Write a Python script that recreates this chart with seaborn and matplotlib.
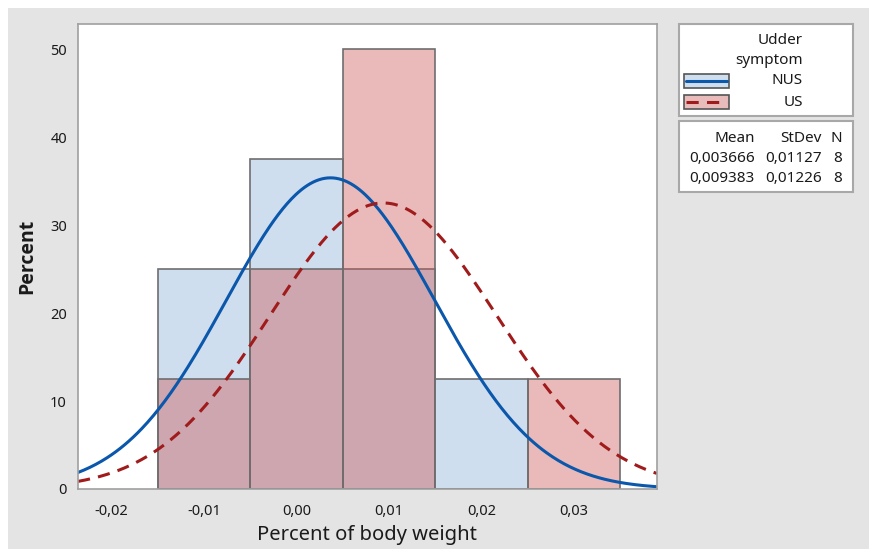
import numpy as np
import pandas as pd
import matplotlib
matplotlib.use("Agg")
import matplotlib.pyplot as plt
from matplotlib.patches import Rectangle
from matplotlib.lines import Line2D
import seaborn as sns

# Histogram data (percent per bin), bin width 0.01
bin_centers = [-0.01, 0.00, 0.01, 0.02, 0.03]
nus_pct = [25.0, 37.5, 25.0, 12.5, 0.0]
us_pct = [12.5, 25.0, 50.0, 0.0, 12.5]
bin_width = 0.01

groups = ["NUS", "US"]
means = [0.003666, 0.009383]
stdevs = [0.01127, 0.01226]
counts = [8, 8]
mean_labels = ["0,003666", "0,009383"]
stdev_labels = ["0,01127", "0,01226"]

x_ticks = [-0.02, -0.01, 0.00, 0.01, 0.02, 0.03]
x_ticklabels = ["-0,02", "-0,01", "0,00", "0,01", "0,02", "0,03"]
y_ticks = [0, 10, 20, 30, 40, 50]

sns.set_style("white")
plt.rcParams["font.family"] = ["Noto Sans", "DejaVu Sans"]

W, H = 870, 549
fig = plt.figure(figsize=(W / 100, H / 100), dpi=100)
fig.patch.set_facecolor("white")


def fx(px):
    return px / W


def fy(py):
    return 1 - py / H


# gray panel behind everything (thin white strip top/left like the original)
fig.add_artist(Rectangle((fx(8), 0), 1 - fx(8), fy(8), transform=fig.transFigure,
                         facecolor="#e4e4e4", edgecolor="none", zorder=-10))

ax = fig.add_axes([fx(78), fy(489), fx(657) - fx(78), fy(24) - fy(489)])
ax.set_facecolor("white")

edges = [round(c - bin_width / 2, 4) for c in bin_centers] + [round(bin_centers[-1] + bin_width / 2, 4)]
nus_col = "#cfdeee"
us_rgba = (0.80, 0.33, 0.33, 0.40)
edge_col = "#6e6e6e"

df = pd.DataFrame({"center": bin_centers, "NUS": nus_pct, "US": us_pct})

sns.histplot(data=df, x="center", weights="NUS", bins=edges, stat="count",
             facecolor=nus_col, edgecolor=edge_col, linewidth=1.2, ax=ax)
sns.histplot(data=df, x="center", weights="US", bins=edges, stat="count",
             facecolor=us_rgba, edgecolor=edge_col, linewidth=1.2, ax=ax)

xlim = (-0.02364, 0.03898)
xs = np.linspace(xlim[0], xlim[1], 400)
line_cols = ["#0a57ab", "#a01b1b"]
for i, g in enumerate(groups):
    pdf = np.exp(-0.5 * ((xs - means[i]) / stdevs[i]) ** 2) / (stdevs[i] * np.sqrt(2 * np.pi))
    ys = pdf * bin_width * 100
    sns.lineplot(x=xs, y=ys, ax=ax, color=line_cols[i], linewidth=2.2)
    if g == "US":
        ax.lines[-1].set_dashes((4, 2.7))

ax.set_xlim(*xlim)
ax.set_ylim(0, 52.9)
ax.set_xticks(x_ticks)
ax.set_xticklabels(x_ticklabels)
ax.set_yticks(y_ticks)
ax.tick_params(axis="both", direction="out", length=4, width=1, color="#9a9a9a",
               labelsize=10.5, labelcolor="#1a1a1a", pad=4)
ax.tick_params(axis="x", pad=7)
for s in ax.spines.values():
    s.set_color("#a0a0a0")
    s.set_linewidth(1.2)
    s.set_visible(True)

ax.set_xlabel("Percent of body weight", fontsize=14.5, color="#1a1a1a", labelpad=4)
ax.set_ylabel("Percent", fontsize=14, fontweight="bold", color="#1a1a1a", labelpad=9,
              family=["Open Sans", "DejaVu Sans"])

# Legend box
fig.add_artist(Rectangle((fx(679), fy(116)), fx(853) - fx(679), fy(24) - fy(116),
                         transform=fig.transFigure, facecolor="white",
                         edgecolor="#a8a8a8", linewidth=1.5))
tkw = dict(transform=fig.transFigure, fontsize=11, color="#1a1a1a", va="center")
fig.text(fx(803), fy(40), "Udder", ha="right", **tkw)
fig.text(fx(803), fy(61), "symptom", ha="right", **tkw)
fills = [nus_col, "#e9bcbc"]
ycent = [81, 102]
for i, g in enumerate(groups):
    fig.add_artist(Rectangle((fx(684), fy(ycent[i] + 7)), fx(729) - fx(684), fy(ycent[i] - 7) - fy(ycent[i] + 7),
                             transform=fig.transFigure, facecolor=fills[i],
                             edgecolor="#555555", linewidth=1.2))
    ln = Line2D([fx(686), fx(727)], [fy(ycent[i]), fy(ycent[i])], transform=fig.transFigure,
                color=line_cols[i], linewidth=2.2)
    if g == "US":
        ln.set_dashes((4, 2.7))
    fig.add_artist(ln)
    fig.text(fx(803), fy(ycent[i]), g, ha="right", **tkw)

# Stats box
fig.add_artist(Rectangle((fx(679), fy(192)), fx(853) - fx(679), fy(121) - fy(192),
                         transform=fig.transFigure, facecolor="white",
                         edgecolor="#a8a8a8", linewidth=1.5))
fig.text(fx(755), fy(138), "Mean", ha="right", **tkw)
fig.text(fx(822), fy(138), "StDev", ha="right", **tkw)
fig.text(fx(842), fy(138), "N", ha="right", **tkw)
rows_y = [158, 178]
for i in range(len(groups)):
    fig.text(fx(755), fy(rows_y[i]), mean_labels[i], ha="right", **tkw)
    fig.text(fx(822), fy(rows_y[i]), stdev_labels[i], ha="right", **tkw)
    fig.text(fx(842), fy(rows_y[i]), str(counts[i]), ha="right", **tkw)

fig.savefig("out.png", dpi=100, facecolor=fig.get_facecolor())
